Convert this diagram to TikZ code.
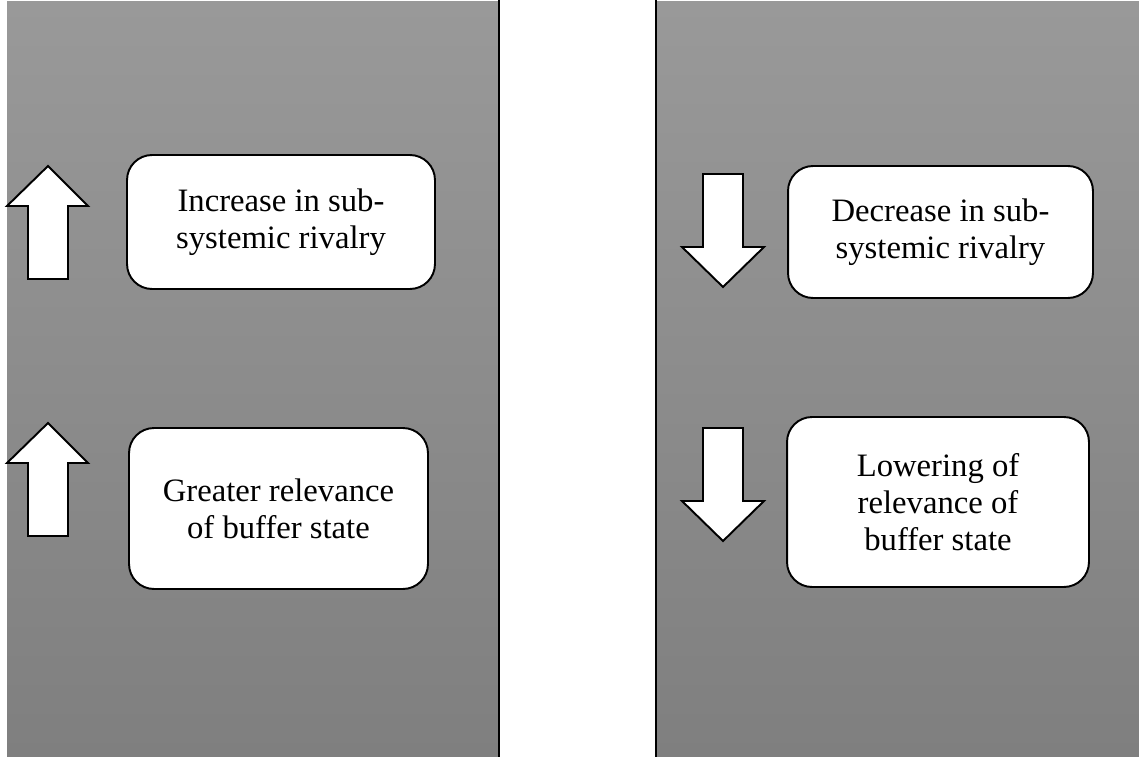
\documentclass[tikz,border=0pt]{standalone}
\usepackage{fontspec}
\setmainfont{Liberation Serif}
\definecolor{paneltop}{RGB}{153,153,153}
\definecolor{panelbottom}{RGB}{127,127,127}

\begin{document}
\begin{tikzpicture}[x=0.02cm,y=-0.02cm,
    effectbox/.style={draw=black, line width=1.1pt, fill=white, rounded corners=0.5cm,
        align=center, inner sep=0pt, font=\fontsize{18.6}{21}\selectfont},
    blockarrow/.style={draw=black, line width=1.1pt, fill=white}]
\useasboundingbox (0,0) rectangle (1139,757);
%
\shade[top color=paneltop, bottom color=panelbottom] (7,2) rectangle (499,757);
\shade[top color=paneltop, bottom color=panelbottom] (656,2) rectangle (1139,757);
\draw[line width=1.5pt] (499,0) -- (499,757);
\draw[line width=1.5pt] (656,0) -- (656,757);
%
\foreach \y in {166,423} {
    \draw[blockarrow] (28,\y+113) -- (28,\y+40) -- (7,\y+40) -- (48,\y) -- (88,\y+40)
        -- (68,\y+40) -- (68,\y+113) -- cycle;
}
\foreach \y in {174,428} {
    \draw[blockarrow] (703,\y) -- (743,\y) -- (743,\y+73) -- (764,\y+73) -- (723,\y+113)
        -- (682,\y+73) -- (703,\y+73) -- cycle;
}
%
\node[effectbox, minimum width=6.16cm, minimum height=2.68cm] (rivalryup) at (281,222)
    {Increase in sub-\\systemic rivalry};
\node[effectbox, minimum width=5.98cm, minimum height=3.22cm] (bufferup) at (278.5,508.5)
    {Greater relevance\\of buffer state};
\node[effectbox, minimum width=6.1cm, minimum height=2.64cm] (rivalrydown) at (940.5,232)
    {Decrease in sub-\\systemic rivalry};
\node[effectbox, minimum width=6.04cm, minimum height=3.4cm] (bufferdown) at (938,502)
    {Lowering of\\relevance of\\buffer state};
\end{tikzpicture}
\end{document}
